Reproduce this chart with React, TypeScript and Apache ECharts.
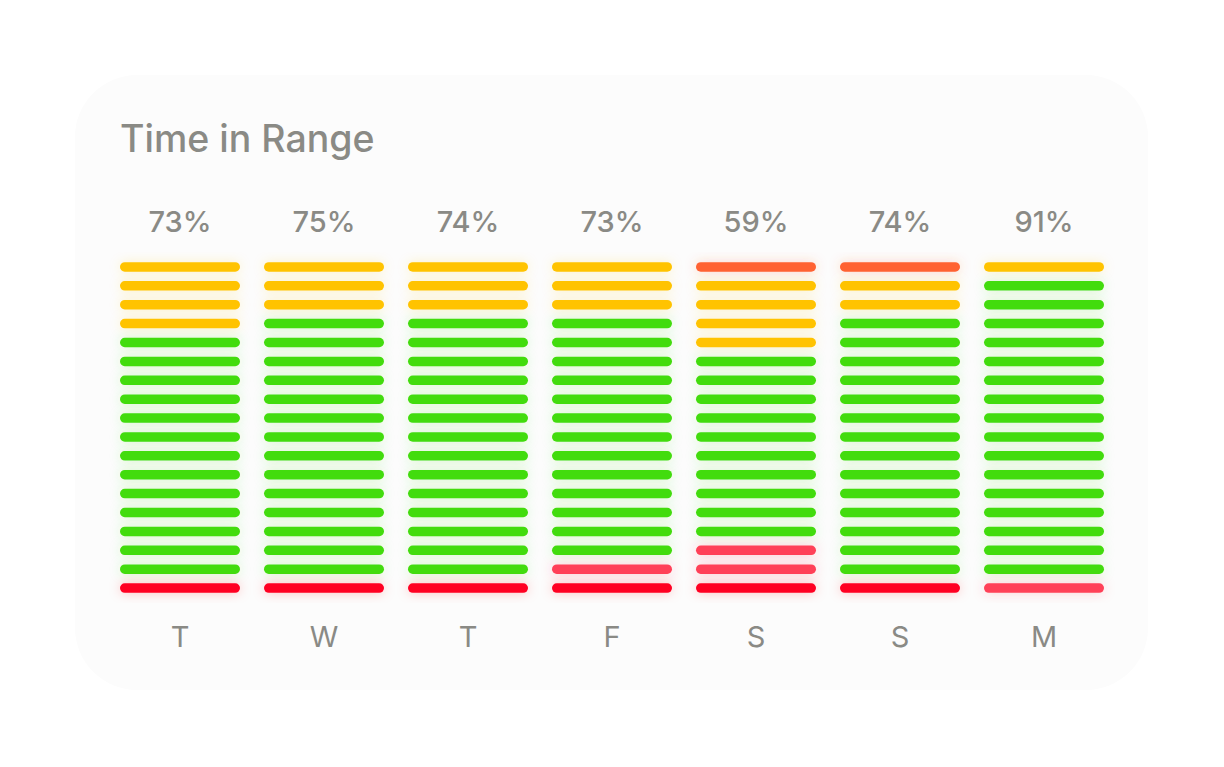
import React, { useEffect, useRef } from 'react';
import * as echarts from 'echarts';

const days = ['T', 'W', 'T', 'F', 'S', 'S', 'M'];
const percentInRange = [73, 75, 74, 73, 59, 74, 91];

// number of segments of each kind per day, stacked from top to bottom
const veryHigh = [0, 0, 0, 0, 1, 1, 0];
const high = [4, 3, 3, 3, 4, 2, 1];
const inRange = [13, 14, 14, 13, 10, 14, 16];
const low = [0, 0, 0, 1, 2, 0, 1];
const veryLow = [1, 1, 1, 1, 1, 1, 0];

const levelColors = ['#FF6232', '#FFC300', '#42DC10', '#FF4058', '#FF0022'];
const levelGlows = [
  'rgba(255,98,50,0.25)',
  'rgba(255,195,0,0.22)',
  'rgba(66,220,16,0.2)',
  'rgba(255,64,88,0.25)',
  'rgba(255,0,34,0.25)'
];

const ROWS = 18;
const rowNames = Array.from({ length: ROWS }, (_, i) => String(i));

const App: React.FC = () => {
  const chartRef = useRef<HTMLDivElement>(null);

  useEffect(() => {
    if (!chartRef.current) return;

    const chart = echarts.init(chartRef.current, null, { renderer: 'svg' });

    // one cell per segment: [day, row, level]
    const cells: number[][] = [];
    days.forEach((_, d) => {
      const counts = [veryHigh[d], high[d], inRange[d], low[d], veryLow[d]];
      let row = 0;
      counts.forEach((n, level) => {
        for (let k = 0; k < n; k++) {
          cells.push([d, row, level]);
          row++;
        }
      });
    });

    const textColor = '#8a8a85';

    const options: echarts.EChartsOption = {
      animation: false,
      backgroundColor: '#ffffff',
      title: {
        text: 'Time in Range',
        left: 115,
        top: 114,
        textStyle: {
          fontFamily: 'Inter',
          fontSize: 37.5,
          fontWeight: 500,
          color: textColor
        }
      },
      graphic: [
        {
          type: 'rect',
          z: -10,
          shape: { x: 75, y: 75, width: 1073, height: 615, r: 62 },
          style: { fill: '#fcfcfc' }
        }
      ],
      grid: {
        left: 108,
        right: 1224 - 1116,
        top: 257.5,
        height: 340
      },
      xAxis: [
        {
          type: 'category',
          data: days,
          position: 'bottom',
          axisLine: { show: false },
          axisTick: { show: false },
          splitLine: { show: false },
          axisLabel: {
            margin: 24,
            fontFamily: 'Inter',
            fontSize: 29,
            color: textColor
          }
        },
        {
          type: 'category',
          data: percentInRange.map((p) => p + '%'),
          position: 'top',
          axisLine: { show: false },
          axisTick: { show: false },
          splitLine: { show: false },
          axisLabel: {
            margin: 22,
            fontFamily: 'Inter',
            fontSize: 29,
            fontWeight: 500,
            color: textColor
          }
        }
      ],
      yAxis: {
        type: 'category',
        data: rowNames,
        inverse: true,
        show: false
      },
      series: [
        {
          type: 'custom',
          xAxisIndex: 0,
          encode: { x: 0, y: 1 },
          data: cells,
          renderItem: (params: any, api: any) => {
            const c = api.coord([api.value(0), api.value(1)]);
            const band = api.size([1, 0])[0];
            const w = band * (120 / 144);
            const h = 9.5;
            const level = api.value(2);
            return {
              type: 'rect',
              shape: { x: c[0] - w / 2, y: c[1] - h / 2, width: w, height: h, r: h / 2 },
              style: {
                fill: levelColors[level],
                shadowBlur: 12,
                shadowColor: levelGlows[level]
              }
            };
          }
        }
      ]
    };

    chart.setOption(options);

    return () => {
      chart.dispose();
    };
  }, []);

  return (
    <div
      ref={chartRef}
      style={{ position: 'fixed', left: 0, top: 0, width: 1224, height: 767 }}
    />
  );
};

export default App;
